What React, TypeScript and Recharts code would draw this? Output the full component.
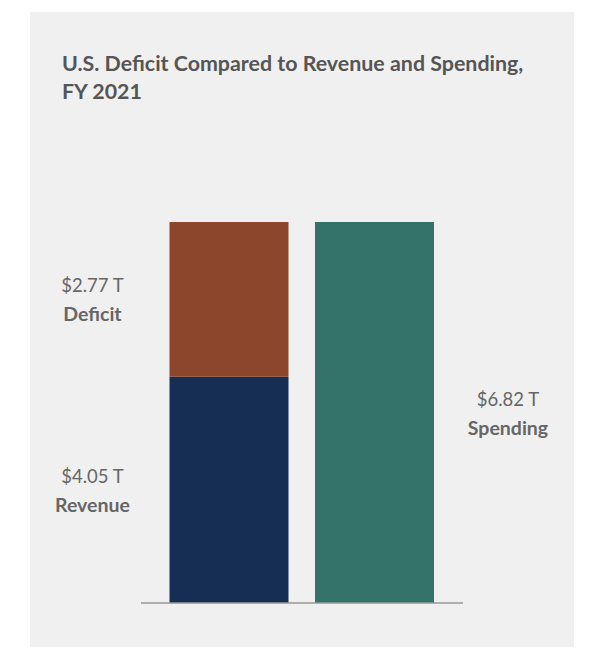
import React from "react";
import { Bar, BarChart, LabelList, ReferenceLine, XAxis, YAxis } from "recharts";

const categories = ["Revenue + Deficit", "Spending"];
const revenue = [4.05, 0];
const deficit = [2.77, 0];
const spending = [0, 6.82];
const seriesNames = { revenue: "Revenue", deficit: "Deficit", spending: "Spending" };

const data = categories.map((name, i) => ({
  name,
  revenue: revenue[i] || null,
  deficit: deficit[i] || null,
  spending: spending[i] || null,
}));

const FONT = "Lato, 'Open Sans', sans-serif";

function SideLabel(props: any) {
  const { x, y, width, height, value, side, title } = props;
  if (value == null || !height) return null;
  const cx = side === "left" ? x - 77 : x + width + 74;
  const cy = y + height / 2;
  return (
    <g fontFamily={FONT} fill="#666" textAnchor="middle">
      <text x={cx} y={cy - 7} fontSize={18.5}>
        {`$${Number(value).toFixed(2)} T`}
      </text>
      <text x={cx} y={cy + 22} fontSize={19.5} fontWeight={700}>
        {title}
      </text>
    </g>
  );
}

export default function App() {
  return (
    <div style={{ position: "relative", width: 591, height: 655, margin: -8, background: "#fff" }}>
      <div style={{ position: "absolute", left: 30, top: 12, width: 544, height: 641, background: "#f0f0f0" }} />
      <div
        style={{
          position: "absolute",
          left: 62,
          top: 49,
          width: 520,
          fontFamily: FONT,
          fontWeight: 700,
          fontSize: 21.4,
          lineHeight: "28px",
          color: "#555",
        }}
      >
        U.S. Deficit Compared to Revenue and Spending,
        <br />
        FY 2021
      </div>
      <div style={{ position: "absolute", left: 0, top: 0 }}>
        <BarChart width={591} height={655} data={data} margin={{ top: 222, right: 128, bottom: 52, left: 141 }}>
          <XAxis dataKey="name" hide padding={{ left: 15.5, right: 15.5 }} />
          <YAxis hide domain={[0, 6.82]} width={0} />
          <Bar dataKey="revenue" stackId="a" fill="#172e54" barSize={119} isAnimationActive={false}>
            <LabelList dataKey="revenue" content={(p: any) => <SideLabel {...p} side="left" title={seriesNames.revenue} />} />
          </Bar>
          <Bar dataKey="deficit" stackId="a" fill="#8b462b" barSize={119} isAnimationActive={false}>
            <LabelList dataKey="deficit" content={(p: any) => <SideLabel {...p} side="left" title={seriesNames.deficit} />} />
          </Bar>
          <Bar dataKey="spending" stackId="a" fill="#33736a" barSize={119} isAnimationActive={false}>
            <LabelList dataKey="spending" content={(p: any) => <SideLabel {...p} side="right" title={seriesNames.spending} />} />
          </Bar>
          <ReferenceLine y={0} stroke="#999" strokeWidth={1.5} />
        </BarChart>
      </div>
    </div>
  );
}
